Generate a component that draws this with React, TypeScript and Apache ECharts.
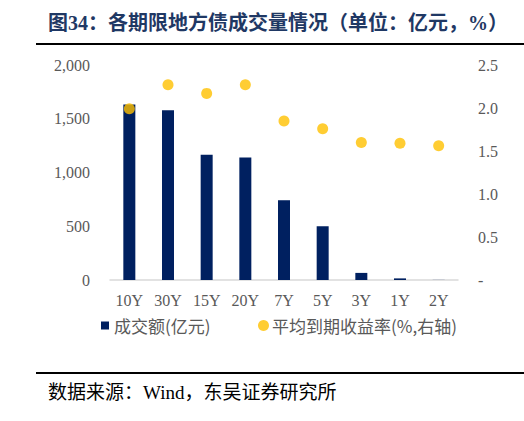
import { useEffect, useRef } from 'react';
import * as echarts from 'echarts';

const categories = ['10Y', '30Y', '15Y', '20Y', '7Y', '5Y', '3Y', '1Y', '2Y'];
const volume = [1632, 1580, 1166, 1140, 742, 500, 66, 15, 1];
const avgYield = [1.99, 2.27, 2.17, 2.27, 1.85, 1.76, 1.6, 1.59, 1.56];

const barName = '成交额(亿元)';
const dotName = '平均到期收益率(%,右轴)';
const titleText = '图34：各期限地方债成交量情况（单位：亿元，%）';
const sourceText = '数据来源：Wind，东吴证券研究所';

const serif = "'Liberation Serif', 'Noto Sans CJK SC', serif";
const cjk = "'Noto Sans CJK SC', sans-serif";
const gray = '#595959';

export default function App() {
  const chartRef = useRef<HTMLDivElement>(null);

  useEffect(() => {
    if (!chartRef.current) return;
    const myChart = echarts.init(chartRef.current, null, { renderer: 'svg' });

    const option = {
      animation: false,
      backgroundColor: '#fff',
      grid: { left: 110, right: 66, top: 65, bottom: 141 },
      graphic: [
        {
          type: 'text',
          left: 48,
          top: 13,
          style: {
            text: titleText,
            font: `bold 20px ${serif}`,
            fill: '#1F3864'
          }
        },
        {
          type: 'line',
          shape: { x1: 36, y1: 44, x2: 524, y2: 44 },
          style: { stroke: '#000', lineWidth: 2 }
        },
        {
          type: 'line',
          shape: { x1: 36, y1: 373, x2: 524, y2: 373 },
          style: { stroke: '#000', lineWidth: 2 }
        },
        {
          type: 'text',
          left: 48,
          top: 383,
          style: {
            text: sourceText,
            font: `19px ${serif}`,
            fill: '#000'
          }
        }
      ],
      legend: [
        {
          data: [{ name: barName, icon: 'rect' }],
          left: 96,
          top: 312,
          itemWidth: 8,
          itemHeight: 8,
          textStyle: { color: gray, fontSize: 17, fontFamily: cjk }
        },
        {
          data: [{ name: dotName, icon: 'circle' }],
          left: 253,
          top: 312,
          itemWidth: 11,
          itemHeight: 11,
          textStyle: { color: gray, fontSize: 17, fontFamily: cjk, padding: [0, 0, 0, -2] }
        }
      ],
      xAxis: {
        type: 'category',
        data: categories,
        axisLine: { lineStyle: { color: '#D9D9D9', width: 1.5 } },
        axisTick: { show: false },
        axisLabel: { color: gray, fontSize: 16, fontFamily: serif, margin: 12 }
      },
      yAxis: [
        {
          type: 'value',
          min: 0,
          max: 2000,
          interval: 500,
          axisLine: { show: false },
          axisTick: { show: false },
          splitLine: { show: false },
          axisLabel: {
            color: gray,
            fontSize: 16,
            fontFamily: serif,
            margin: 20,
            formatter: (v: number) => v.toLocaleString('en-US')
          }
        },
        {
          type: 'value',
          min: 0,
          max: 2.5,
          interval: 0.5,
          axisLine: { show: false },
          axisTick: { show: false },
          splitLine: { show: false },
          axisLabel: {
            color: gray,
            fontSize: 16,
            fontFamily: serif,
            margin: 20,
            formatter: (v: number) => (v === 0 ? '-' : v.toFixed(1))
          }
        }
      ],
      series: [
        {
          name: barName,
          type: 'bar',
          data: volume,
          barWidth: 12,
          itemStyle: { color: '#002060' }
        },
        {
          name: dotName,
          type: 'scatter',
          yAxisIndex: 1,
          data: avgYield,
          symbolSize: 11,
          itemStyle: { color: '#FFC000' }
        }
      ]
    };

    myChart.setOption(option);

    return () => {
      myChart.dispose();
    };
  }, []);

  return (
    <div
      ref={chartRef}
      style={{ position: 'fixed', left: 0, top: 0, width: 524, height: 421 }}
    />
  );
}
